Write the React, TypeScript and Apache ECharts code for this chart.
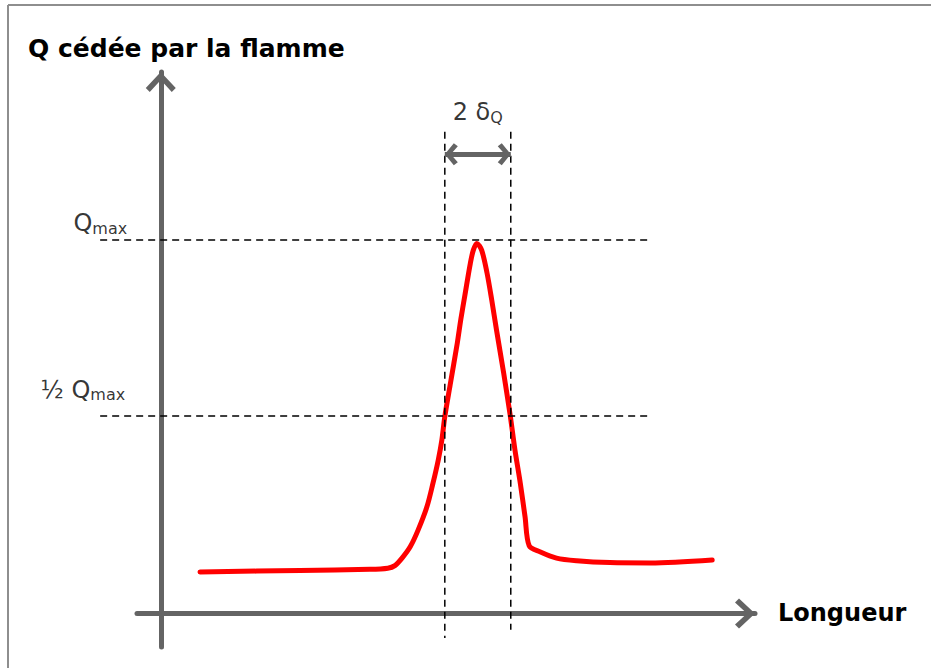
import React, { useEffect, useRef } from "react";
import * as echarts from "echarts";

// ---- Data (x: position along "Longueur", q: heat released, Qmax = 1) ----
const curveX = [
  6.6, 23.4, 35.2, 38.2, 39.4, 40.6, 42.0, 43.3, 44.8, 45.8, 46.7, 47.3, 47.8, 48.7, 49.9, 50.5,
  51.2, 52.1, 52.6, 53.2, 54.0, 54.9, 55.7, 56.5, 57.7, 58.8, 59.6, 60.5, 61.3, 62.0, 63.8, 66.6,
  70.0, 75.6, 82.4, 92.8,
];
const curveQ = [
  0.111, 0.115, 0.118, 0.121, 0.128, 0.148, 0.179, 0.223, 0.286, 0.348, 0.411, 0.464, 0.527, 0.612,
  0.724, 0.788, 0.854, 0.938, 0.973, 0.991, 0.973, 0.912, 0.839, 0.759, 0.644, 0.531, 0.438, 0.349,
  0.259, 0.181, 0.165, 0.148, 0.141, 0.136, 0.135, 0.143,
];
const Q_MAX = 1.0;
const Q_HALF = 0.529;
const X_HALF_LEFT = 47.8;
const X_HALF_RIGHT = 58.9;
const GUIDE_X_START = -10.2;
const GUIDE_X_END = 82.3;
const DELTA_TOP = 1.29;
const DELTA_BOTTOMS = [-0.066, -0.044];
const ARROW_Q = 1.23;
const X_RANGE = [-4, 100];
const Q_RANGE = [-0.09, 1.45];

// guide segments: [x1, q1, x2, q2]
const guideSegments = [
  [GUIDE_X_START, Q_MAX, GUIDE_X_END, Q_MAX],
  [GUIDE_X_START, Q_HALF, GUIDE_X_END, Q_HALF],
  [X_HALF_LEFT, DELTA_TOP, X_HALF_LEFT, DELTA_BOTTOMS[0]],
  [X_HALF_RIGHT, DELTA_TOP, X_HALF_RIGHT, DELTA_BOTTOMS[1]],
];

const TITLE = "Q cédée par la flamme";
const X_NAME = "Longueur";

const FONT = "DejaVu Sans";
const AXIS_COLOR = "#646464";
const CHEVRON_AXIS = "path://M15,0 L30,16 L26,20 L15,8 L4,20 L0,16 Z";
const CHEVRON_SMALL = "path://M11,0 L22,9 L19,13 L11,6 L3,13 L0,9 Z";

const subRich = {
  q: { fontFamily: FONT, fontSize: 24, lineHeight: 26, color: "#000" },
  s: { fontFamily: FONT, fontSize: 16, lineHeight: 16, color: "#000", verticalAlign: "bottom" },
};

export default function App() {
  const ref = useRef<HTMLDivElement>(null);
  useEffect(() => {
    if (!ref.current) return;
    const chart = echarts.init(ref.current, undefined, { renderer: "svg" });
    chart.setOption({
      animation: false,
      title: {
        text: TITLE,
        left: 28,
        top: 36,
        padding: 0,
        textStyle: { fontFamily: FONT, fontSize: 25, fontWeight: "bold", color: "#000" },
      },
      graphic: [
        { type: "line", shape: { x1: 8, y1: 5, x2: 931, y2: 5 }, style: { stroke: "#8e8e8e", lineWidth: 2 } },
        { type: "line", shape: { x1: 8, y1: 5, x2: 8, y2: 668 }, style: { stroke: "#8e8e8e", lineWidth: 2 } },
      ],
      grid: { left: 137, right: 176, top: 72, bottom: 21, containLabel: false },
      xAxis: {
        type: "value",
        min: X_RANGE[0],
        max: X_RANGE[1],
        name: X_NAME,
        nameLocation: "end",
        nameGap: 23,
        nameTextStyle: { fontFamily: FONT, fontSize: 24, fontWeight: "bold", color: "#000", verticalAlign: "middle" },
        axisLine: {
          show: true,
          onZero: true,
          symbol: ["none", CHEVRON_AXIS],
          symbolSize: [30, 20],
          symbolOffset: [0, -10],
          lineStyle: { color: AXIS_COLOR, width: 5 },
        },
        axisTick: { show: false },
        axisLabel: { show: false },
        splitLine: { show: false },
      },
      yAxis: {
        type: "value",
        min: Q_RANGE[0],
        max: Q_RANGE[1],
        axisLine: {
          show: true,
          onZero: true,
          symbol: ["none", CHEVRON_AXIS],
          symbolSize: [30, 20],
          symbolOffset: [0, -10],
          lineStyle: { color: AXIS_COLOR, width: 5 },
        },
        axisTick: { show: false },
        axisLabel: { show: false },
        splitLine: { show: false },
      },
      series: [
        {
          type: "line",
          data: curveX.map((x, i) => [x, curveQ[i]]),
          symbol: "none",
          smooth: 0.3,
          clip: false,
          silent: true,
          z: 3,
          lineStyle: { color: "#ff0000", width: 5, cap: "round", join: "round" },
        },
        {
          type: "custom",
          clip: false,
          silent: true,
          z: 4,
          data: guideSegments,
          encode: { x: [0, 2], y: [1, 3] },
          renderItem: (_params: any, api: any) => {
            const p1 = api.coord([api.value(0), api.value(1)]);
            const p2 = api.coord([api.value(2), api.value(3)]);
            return {
              type: "line",
              shape: { x1: p1[0], y1: p1[1], x2: p2[0], y2: p2[1] },
              style: { stroke: "#000", lineWidth: 1.5, lineDash: [7, 5], fill: null },
            };
          },
        },
        {
          type: "line",
          data: [],
          silent: true,
          markLine: {
            silent: true,
            animation: false,
            symbol: [CHEVRON_SMALL, CHEVRON_SMALL],
            symbolSize: [22, 13],
            symbolOffset: [[0, 6.5], [0, 6.5]],
            label: { show: false },
            lineStyle: { color: AXIS_COLOR, width: 5, type: "solid" },
            emphasis: { disabled: true },
            data: [[{ coord: [X_HALF_LEFT, ARROW_Q] }, { coord: [X_HALF_RIGHT, ARROW_Q] }]],
          },
        },
        {
          type: "scatter",
          clip: false,
          silent: true,
          symbolSize: 0,
          itemStyle: { color: "transparent" },
          z: 5,
          data: [
            {
              value: [GUIDE_X_START, Q_MAX],
              label: {
                show: true,
                color: "#000",
                position: [27, -4],
                align: "right",
                verticalAlign: "bottom",
                formatter: "{q|Q}{s|max}",
                rich: subRich,
              },
            },
            {
              value: [GUIDE_X_START, Q_HALF],
              label: {
                show: true,
                color: "#000",
                position: [25, -13],
                align: "right",
                verticalAlign: "bottom",
                formatter: "{q|½ Q}{s|max}",
                rich: subRich,
              },
            },
            {
              value: [(X_HALF_LEFT + X_HALF_RIGHT) / 2, ARROW_Q],
              label: {
                show: true,
                color: "#000",
                position: [0, -29],
                align: "center",
                verticalAlign: "bottom",
                formatter: "{q|2 δ}{s|Q}",
                rich: subRich,
              },
            },
          ],
        },
      ],
    });
    return () => chart.dispose();
  }, []);
  return (
    <div
      ref={ref}
      style={{ position: "absolute", left: 0, top: 0, width: 931, height: 668, background: "#fff" }}
    />
  );
}
